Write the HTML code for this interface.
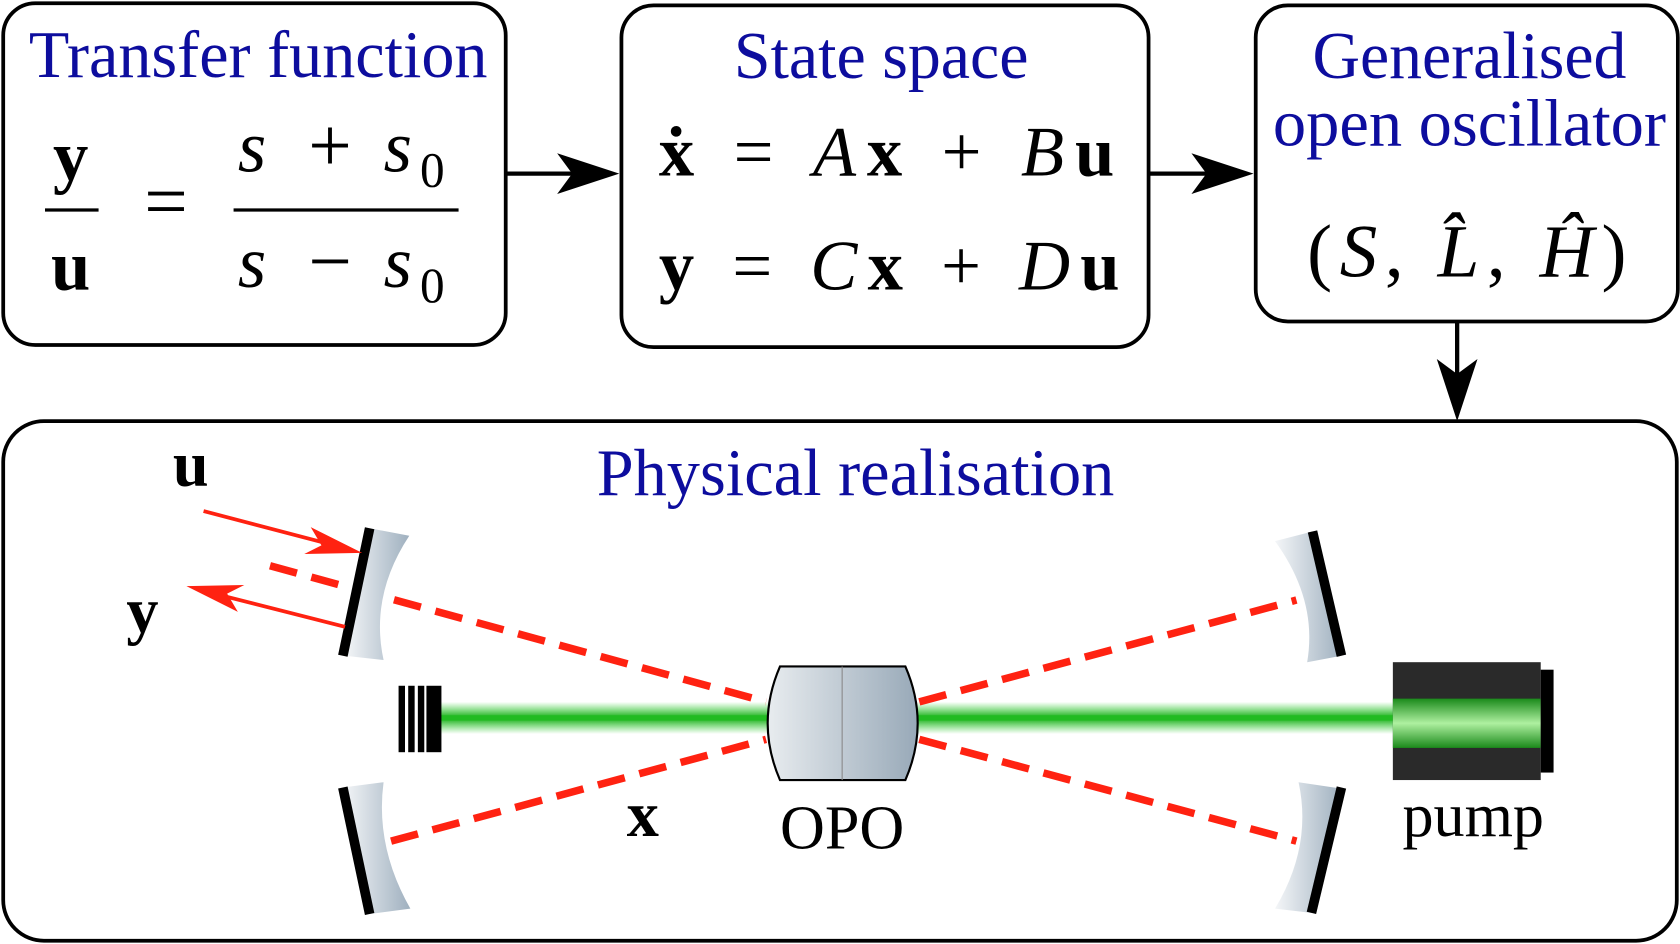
<!DOCTYPE html>
<html><head><meta charset="utf-8"><style>
html,body{margin:0;padding:0;background:#fff;}
svg{display:block;}
.t{font-family:"Liberation Serif",serif;fill:#0d0d9e;font-size:62px;}
.m{font-family:"Liberation Serif",serif;fill:#000;}
</style></head><body>
<svg width="1680" height="944" viewBox="0 0 1568 881" preserveAspectRatio="none" xmlns="http://www.w3.org/2000/svg">
<defs>
<linearGradient id="mg" x1="0" y1="0" x2="1" y2="0"><stop offset="0" stop-color="#f4f6f8"/><stop offset="1" stop-color="#9fb0bf"/></linearGradient>
<linearGradient id="og" x1="0" y1="0" x2="1" y2="0"><stop offset="0" stop-color="#e8ecef"/><stop offset="1" stop-color="#98a9b8"/></linearGradient>
<linearGradient id="gb" x1="0" y1="0" x2="0" y2="1"><stop offset="0" stop-color="#2c2" stop-opacity="0"/><stop offset="0.5" stop-color="#1a1" stop-opacity="1"/><stop offset="1" stop-color="#2c2" stop-opacity="0"/></linearGradient>
<linearGradient id="pg" x1="0" y1="0" x2="0" y2="1"><stop offset="0" stop-color="#1b8a1b"/><stop offset="0.5" stop-color="#aef0a0"/><stop offset="1" stop-color="#1b8a1b"/></linearGradient>
</defs>
<g fill="none" stroke="#000" stroke-width="3.5">
<rect x="3" y="3" width="469" height="319" rx="30"/>
<rect x="580" y="5" width="492" height="319" rx="30"/>
<rect x="1172" y="5" width="394" height="295" rx="30"/>
<rect x="3" y="393" width="1562" height="485" rx="38"/>
</g>
<g stroke="#000" stroke-width="4">
<line x1="472" y1="162" x2="560" y2="162"/><path d="M578,162 L520,143 L534,162 L520,181z" fill="#000" stroke="none"/>
<line x1="1072" y1="162" x2="1150" y2="162"/><path d="M1170,162 L1112,143 L1126,162 L1112,181z" fill="#000" stroke="none"/>
<line x1="1360" y1="300" x2="1360" y2="375"/><path d="M1360,393 L1341,335 L1360,349 L1379,335z" fill="#000" stroke="none"/>
</g>
<text class="t" x="27" y="72" textLength="428" lengthAdjust="spacingAndGlyphs">Transfer function</text>
<text class="t" x="685" y="73" textLength="275" lengthAdjust="spacingAndGlyphs">State space</text>
<text class="t" x="1225" y="73" textLength="293" lengthAdjust="spacingAndGlyphs">Generalised</text>
<text class="t" x="1188" y="136" textLength="367" lengthAdjust="spacingAndGlyphs">open oscillator</text>
<text class="t" x="557" y="462" textLength="483" lengthAdjust="spacingAndGlyphs">Physical realisation</text>
<!-- transfer function math -->
<text class="m" x="66" y="168" font-size="66" font-weight="bold" text-anchor="middle">y</text>
<line x1="42" y1="196" x2="92" y2="196" stroke="#000" stroke-width="3"/>
<text class="m" x="66" y="270" font-size="66" font-weight="bold" text-anchor="middle">u</text>
<text class="m" x="155" y="212" font-size="72" text-anchor="middle">=</text>
<g class="m" font-size="68">
<text class="m" x="222" y="160" font-style="italic">s</text>
<text class="m" x="308" y="160" font-size="72" text-anchor="middle">+</text>
<text class="m" x="358" y="160" font-style="italic">s</text>
<text class="m" x="392" y="174" font-size="46">0</text>
<text class="m" x="222" y="268" font-style="italic">s</text>
<text class="m" x="308" y="268" font-size="72" text-anchor="middle">−</text>
<text class="m" x="358" y="268" font-style="italic">s</text>
<text class="m" x="392" y="282" font-size="46">0</text>
</g>
<line x1="218" y1="196" x2="428" y2="196" stroke="#000" stroke-width="3"/>
<!-- state space -->
<text class="m" x="615" y="164" font-size="66" textLength="425" lengthAdjust="spacing"><tspan font-weight="bold">ẋ</tspan> = <tspan font-style="italic">A</tspan><tspan font-weight="bold">x</tspan> + <tspan font-style="italic">B</tspan><tspan font-weight="bold">u</tspan></text>
<text class="m" x="615" y="270" font-size="66" textLength="430" lengthAdjust="spacing"><tspan font-weight="bold">y</tspan> = <tspan font-style="italic">C</tspan><tspan font-weight="bold">x</tspan> + <tspan font-style="italic">D</tspan><tspan font-weight="bold">u</tspan></text>
<text class="m" x="1220" y="258" font-size="70" textLength="298" lengthAdjust="spacing">(<tspan font-style="italic">S</tspan>, <tspan font-style="italic">L̂</tspan>, <tspan font-style="italic">Ĥ</tspan>)</text>
<!-- green beam -->
<rect x="405" y="655" width="900" height="30" fill="url(#gb)"/>
<line x1="405" y1="670" x2="1305" y2="670" stroke="#22bb22" stroke-width="5"/>
<!-- left stack -->
<g fill="#000"><rect x="372" y="640" width="6" height="62"/><rect x="381" y="640" width="6" height="62"/><rect x="390" y="640" width="6" height="62"/><rect x="398" y="640" width="14" height="62"/></g>
<!-- pump -->
<rect x="1300" y="618" width="138" height="110" fill="#2a2a2a"/>
<rect x="1300" y="652" width="138" height="46" fill="url(#pg)"/>
<rect x="1438" y="625" width="12" height="96" fill="#000"/>
<!-- red dashed -->
<g stroke="#f21" stroke-width="7" stroke-dasharray="26,14" fill="none">
<line x1="252" y1="528" x2="715" y2="655"/>
<line x1="858" y1="655" x2="1210" y2="560"/>
<line x1="365" y1="785" x2="715" y2="690"/>
<line x1="858" y1="690" x2="1210" y2="785"/>
</g>
<!-- OPO -->
<path d="M728,622 L845,622 Q868,675 845,728 L728,728 Q705,675 728,622z" fill="url(#og)" stroke="#000" stroke-width="2"/>
<line x1="786" y1="622" x2="786" y2="728" stroke="#888" stroke-width="1"/>
<!-- mirrors -->
<path d="M345,493 L322,612 L358,616 Q345,556 382,500z" fill="url(#mg)"/>
<line x1="345" y1="493" x2="320" y2="612" stroke="#000" stroke-width="9"/>
<path d="M320,735 L345,853 L383,848 Q350,790 358,730z" fill="url(#mg)"/>
<line x1="320" y1="735" x2="345" y2="853" stroke="#000" stroke-width="9"/>
<path d="M1225,496 L1252,612 L1220,618 Q1230,560 1190,505z" fill="url(#mg)"/>
<line x1="1225" y1="496" x2="1252" y2="612" stroke="#000" stroke-width="9"/>
<path d="M1252,736 L1224,852 L1190,848 Q1225,790 1212,730z" fill="url(#mg)"/>
<line x1="1252" y1="735" x2="1224" y2="852" stroke="#000" stroke-width="9"/>
<!-- red arrows -->
<g stroke="#f21" stroke-width="3.5">
<line x1="190" y1="477" x2="320" y2="511"/><path d="M338,516 L290,492 L300,509 L284,517z" fill="#f21" stroke="none"/>
<line x1="322" y1="585" x2="192" y2="552"/><path d="M174,547 L222,571 L212,554 L228,546z" fill="#f21" stroke="none"/>
</g>
<text class="m" x="178" y="453" font-size="60" font-weight="bold" text-anchor="middle">u</text>
<text class="m" x="133" y="590" font-size="60" font-weight="bold" text-anchor="middle">y</text>
<text class="m" x="600" y="780" font-size="60" font-weight="bold" text-anchor="middle">x</text>
<text class="m" x="786" y="792" font-size="58" text-anchor="middle">OPO</text>
<text class="m" x="1375" y="780" font-size="58" text-anchor="middle">pump</text>
</svg>
</body></html>
